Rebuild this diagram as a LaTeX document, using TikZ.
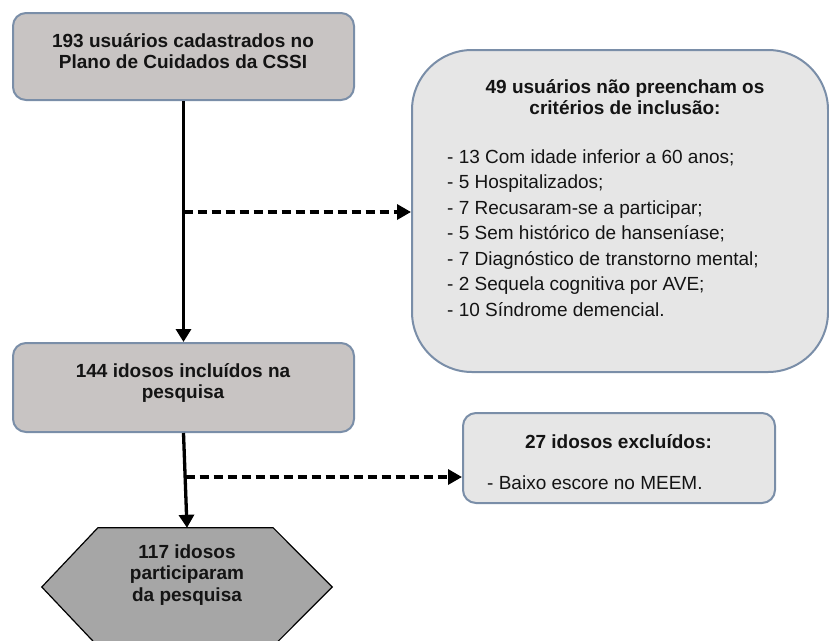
\documentclass[tikz,border=0pt]{standalone}
\usepackage{fontspec}
\setmainfont{Liberation Sans}
\usetikzlibrary{arrows.meta}
\definecolor{boxgray}{RGB}{200,196,195}
\definecolor{lightbox}{RGB}{230,230,230}
\definecolor{hexgray}{RGB}{166,166,166}
\definecolor{edgeblue}{RGB}{122,142,168}
\definecolor{ink}{RGB}{20,20,20}
\begin{document}
\begin{tikzpicture}[x=1pt,y=-1pt,
  gbox/.style={draw=edgeblue, line width=2pt, fill=boxgray, rounded corners=13pt, inner sep=0},
  lbox/.style={draw=edgeblue, line width=2pt, fill=lightbox, inner sep=0},
  btxt/.style={inner sep=0, text=ink, font=\fontsize{19}{21.8}\selectfont\bfseries},
  rtxt/.style={inner sep=0, text=ink, font=\fontsize{19}{25.5}\selectfont},
  flow/.style={line width=3.3pt, -{Triangle[length=13pt,width=15pt]}},
  side/.style={line width=3.3pt, dash pattern=on 9pt off 5pt, -{Triangle[length=14pt,width=15pt]}}]
\useasboundingbox (0,0) rectangle (829,640);
\clip (0,0) rectangle (829,640);
\setlength{\tabcolsep}{0pt}
% boxes
\node[gbox, minimum width=341pt, minimum height=87pt] (b1) at (183.5,56.5) {};
\node[btxt, anchor=base] (t1) at (183,47) {\begin{tabular}[t]{c}193 usuários cadastrados no\\Plano de Cuidados da CSSI\end{tabular}};
\node[gbox, minimum width=341pt, minimum height=89pt] (b2) at (183.5,387.5) {};
\node[btxt, anchor=base] (t2) at (183,377) {\begin{tabular}[t]{c}144 idosos incluídos na\\pesquisa\end{tabular}};
\node[lbox, rounded corners=60pt, minimum width=416pt, minimum height=322pt] (crit) at (620,211) {};
\node[btxt, anchor=base] (ct) at (625,93) {\begin{tabular}[t]{c}49 usuários não preencham os\\critérios de inclusão:\end{tabular}};
\node[rtxt, anchor=base west] (cl) at (447,163) {\begin{tabular}[t]{l}- 13 Com idade inferior a 60 anos;\\- 5 Hospitalizados;\\- 7 Recusaram-se a participar;\\- 5 Sem histórico de hanseníase;\\- 7 Diagnóstico de transtorno mental;\\- 2 Sequela cognitiva por AVE;\\- 10 Síndrome demencial.\end{tabular}};
\node[lbox, rounded corners=13pt, minimum width=312pt, minimum height=90pt] (ex) at (619,458) {};
\node[btxt, anchor=base] (et) at (618.5,448) {27 idosos excluídos:};
\node[rtxt, anchor=base west] (el) at (487,489) {- Baixo escore no MEEM.};
% hexagon
\node[minimum width=290pt, minimum height=118pt, inner sep=0] (hex) at (187,587) {};
\draw[fill=hexgray, line width=1.2pt] (hex.west) -- ([xshift=56pt]hex.north west) -- ([xshift=-59pt]hex.north east) -- (hex.east) -- ([xshift=-59pt]hex.south east) -- ([xshift=56pt]hex.south west) -- cycle;
\node[btxt, anchor=base] (ht) at (187,558) {\begin{tabular}[t]{c}117 idosos\\participaram\\da pesquisa\end{tabular}};
% connectors
\draw[flow] (b1.south) -- (b2.north);
\coordinate (j1) at (183.5,212);
\draw[side] (j1) -- (crit.west |- j1);
\draw[flow] (b2.south) -- (hex.north);
\coordinate (j2) at (185.5,477);
\draw[side] (j2) -- (ex.west |- j2);
\end{tikzpicture}
\end{document}
